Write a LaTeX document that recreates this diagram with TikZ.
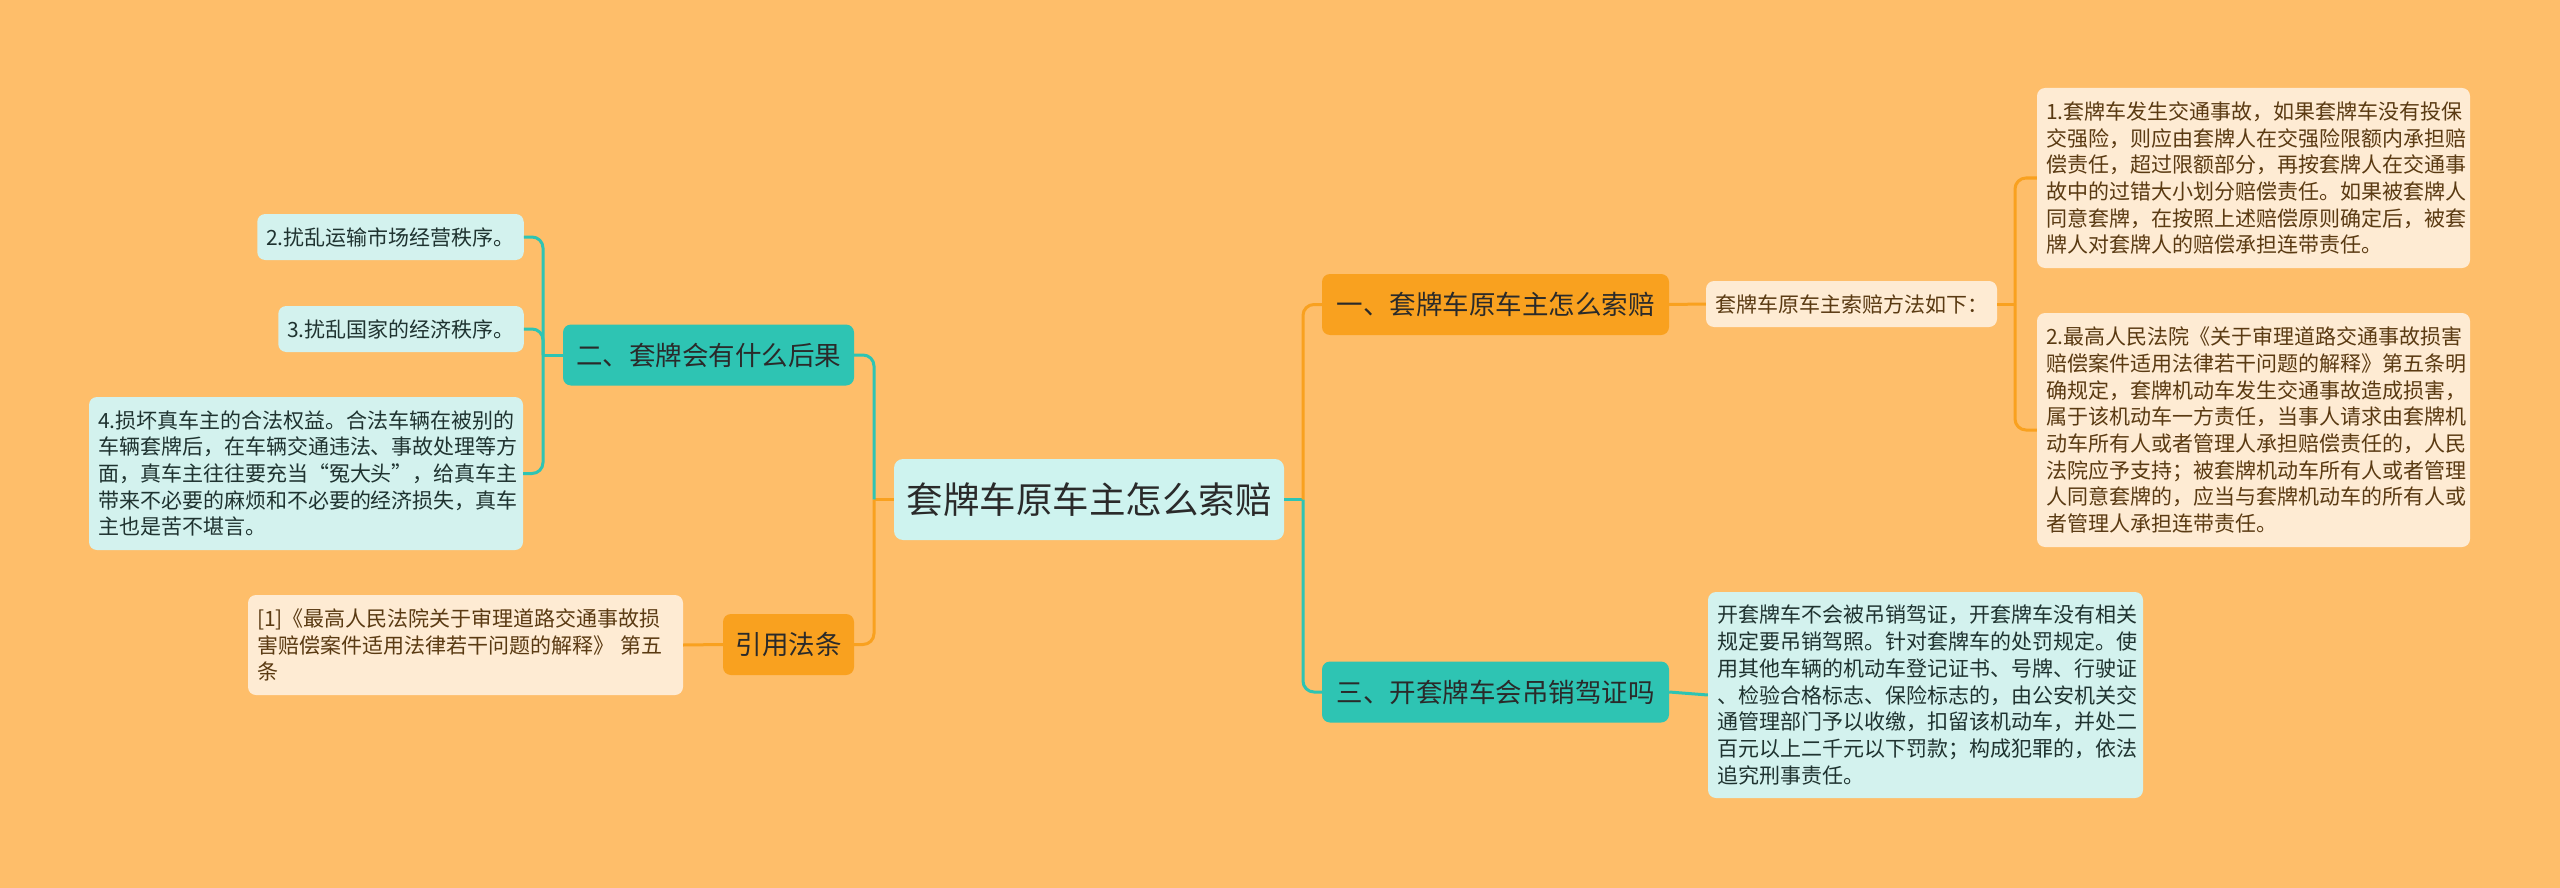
\documentclass[tikz,border=0pt]{standalone}
\usepackage{fontspec}
\usepackage{tikz}
\newfontfamily\cjk{Noto Sans CJK SC}
\definecolor{cBack}{HTML}{FEBE6A}
\definecolor{cOrange}{HTML}{F9A11F}
\definecolor{cTeal}{HTML}{2EC4B3}
\definecolor{cRoot}{HTML}{CEF3EF}
\definecolor{cCyan}{HTML}{D3F2EE}
\definecolor{cCream}{HTML}{FEEBD3}
\definecolor{cInk}{HTML}{2A2A2A}
\definecolor{cBrown}{HTML}{5A3A12}
\definecolor{cDeep}{HTML}{1F3330}
\tikzset{
	rootbox/.style ={rectangle, rounded corners=9pt, fill=cRoot, text=cInk, inner sep=0pt, minimum width=390pt, minimum height=81pt, font=\cjk\fontsize{36.5}{44}\selectfont},
	topicO/.style  ={rectangle, rounded corners=8pt, fill=cOrange, text=cInk, inner sep=0pt, minimum height=61pt, font=\cjk\fontsize{26.5}{32}\selectfont},
	topicT/.style  ={topicO, fill=cTeal},
	cream/.style   ={rectangle, rounded corners=8pt, fill=cCream, text=cBrown, inner xsep=9pt, inner ysep=0pt, align=left, font=\cjk\fontsize{21}{26.7}\selectfont},
	cyan/.style    ={cream, fill=cCyan, text=cDeep},
	lnO/.style     ={draw=cOrange, line width=3pt},
	lnT/.style     ={draw=cTeal, line width=3pt},
	elbow/.style   ={rounded corners=11pt},
}
\begin{document}
\begin{tikzpicture}[x=1pt, y=-1pt]
	\fill[cBack] (0,0) rectangle (2560,888);
	\useasboundingbox (0,0) rectangle (2560,888);
	% centre
	\node[rootbox] (root) at (1089,499.5) {套牌车原车主怎么索赔};
	% right side
	\node[topicO, minimum width=347pt] (q1) at (1495.5,304.5) {一、套牌车原车主怎么索赔};
	\node[topicT, minimum width=347pt] (q3) at (1495.5,692) {三、开套牌车会吊销驾证吗};
	\node[cream, minimum width=287pt, minimum height=46pt] (way) at (1851.5,304) {套牌车原车主索赔方法如下：};
	\node[cream, text width=415pt, minimum height=180pt] (way1) at (2253.5,178) {1.套牌车发生交通事故，如果套牌车没有投保\\交强险，则应由套牌人在交强险限额内承担赔\\偿责任，超过限额部分，再按套牌人在交通事\\故中的过错大小划分赔偿责任。如果被套牌人\\同意套牌，在按照上述赔偿原则确定后，被套\\牌人对套牌人的赔偿承担连带责任。};
	\node[cream, text width=415pt, minimum height=234pt] (way2) at (2253.5,430) {2.最高人民法院《关于审理道路交通事故损害\\赔偿案件适用法律若干问题的解释》第五条明\\确规定，套牌机动车发生交通事故造成损害，\\属于该机动车一方责任，当事人请求由套牌机\\动车所有人或者管理人承担赔偿责任的，人民\\法院应予支持；被套牌机动车所有人或者管理\\人同意套牌的，应当与套牌机动车的所有人或\\者管理人承担连带责任。};
	\node[cyan, text width=417pt, minimum height=206pt] (ans3) at (1925.5,695) {开套牌车不会被吊销驾证，开套牌车没有相关\\规定要吊销驾照。针对套牌车的处罚规定。使\\用其他车辆的机动车登记证书、号牌、行驶证\\、检验合格标志、保险标志的，由公安机关交\\通管理部门予以收缴，扣留该机动车，并处二\\百元以上二千元以下罚款；构成犯罪的，依法\\追究刑事责任。};
	% left side
	\node[topicT, minimum width=291pt] (q2) at (708.5,355) {二、套牌会有什么后果};
	\node[topicO, minimum width=131pt] (law) at (788.5,644.5) {引用法条};
	\node[cyan, minimum width=265pt, minimum height=46pt] (r2) at (390.5,237) {2.扰乱运输市场经营秩序。};
	\node[cyan, minimum width=244pt, minimum height=46pt] (r3) at (401,329) {3.扰乱国家的经济秩序。};
	\node[cyan, text width=416pt, minimum height=153pt] (r4) at (306,473.5) {4.损坏真车主的合法权益。合法车辆在被别的\\车辆套牌后，在车辆交通违法、事故处理等方\\面，真车主往往要充当“冤大头”，给真车主\\带来不必要的麻烦和不必要的经济损失，真车\\主也是苦不堪言。};
	\node[cream, text width=417pt, minimum height=100pt] (law1) at (465.5,645) {[1]《最高人民法院关于审理道路交通事故损\\害赔偿案件适用法律若干问题的解释》 第五\\条};
	% joints
	\coordinate (rj) at (1303,499.5);
	\coordinate (lj) at (874,499.5);
	\coordinate (wj) at (2015,304);
	\coordinate (qj) at (543,355);
	% connectors
	\draw[lnT] (root.east) -- (rj);
	\draw[lnO, elbow] (rj) |- (q1.west);
	\draw[lnT, elbow] (rj) |- (q3.west);
	\draw[lnO] (q1.east) -- (way.west);
	\draw[lnO] (way.east) -- (wj);
	\draw[lnO, elbow] (wj) |- (way1.west);
	\draw[lnO, elbow] (wj) |- (way2.west);
	\draw[lnT] (q3.east) -- (ans3.west);
	\draw[lnO] (root.west) -- (lj);
	\draw[lnT, elbow] (lj) |- (q2.east);
	\draw[lnO, elbow] (lj) |- (law.east);
	\draw[lnT] (q2.west) -- (qj);
	\draw[lnT, elbow] (qj) |- (r2.east);
	\draw[lnT, elbow] (qj) |- (r3.east);
	\draw[lnT, elbow] (qj) |- (r4.east);
	\draw[lnO] (law.west) -- (law1.east);
\end{tikzpicture}
\end{document}
